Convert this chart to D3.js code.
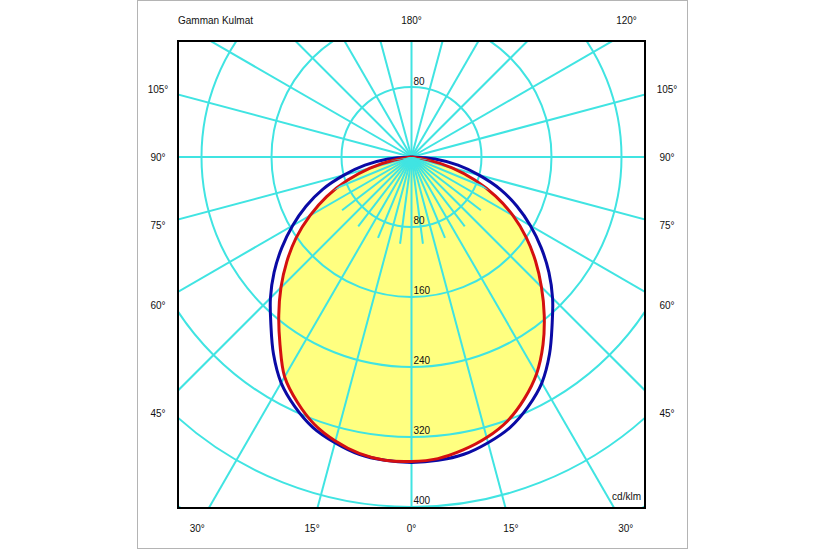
<!DOCTYPE html>
<html>
<head>
<meta charset="utf-8">
<script src="https://cdn.jsdelivr.net/npm/d3@7"></script>
<style>
  html, body { margin: 0; padding: 0; background: #fff; }
  text { font-family: "Liberation Sans", Arial, sans-serif; }
</style>
</head>
<body>
<svg id="chart" width="825" height="550"></svg>
<script>
// ---- data ----
const gammaAngles = d3.range(-90, 91, 5);               // gamma angle, degrees from nadir
const blueIntensity = [0, 27, 54, 80, 108, 133, 157, 181, 205, 228, 250, 275, 298, 315, 329, 338, 345, 348,
                       349,
                       348, 345, 338, 329, 315, 298, 275, 250, 228, 205, 181, 157, 133, 108, 80, 54, 27, 0];
const redIntensity  = [0, 0, 20, 49, 78, 107, 134, 161, 186, 211, 236, 262, 290, 309, 325, 336, 344, 348,
                       348,
                       346, 340, 332, 321, 305, 286, 262, 236, 210, 185, 160, 134, 106, 77, 48, 19, 0, 0];
const ringValues = [80, 160, 240, 320, 400, 480, 560];
const ringLabels = ["80", "160", "240", "320", "400"];
const sideLabelAngles = [45, 60, 75, 90, 105];
const bottomLabelAngles = [-30, -15, 0, 15, 30];
const topLabels = ["Gamman Kulmat", "180°", "120°"];
const unitLabel = "cd/klm";

// ---- layout ----
const svg = d3.select("#chart");
const box = { x: 178, y: 41, w: 467, h: 467 };
const cx = box.x + box.w / 2, cy = 157;
const r = d3.scaleLinear().domain([0, 400]).range([0, 350]);
const rad = d => d * Math.PI / 180;
const gridColor = "#40e4e2";

// radial line generator: gamma measured from downward vertical
const radial = (vals) => d3.lineRadial()
  .angle((d, i) => Math.PI - rad(gammaAngles[i]))
  .radius(d => r(d))
  .curve(d3.curveCatmullRom.alpha(0.5))(vals);

// outer frame
svg.append("rect").attr("x", 137.5).attr("y", 0.5).attr("width", 550).attr("height", 548)
  .attr("fill", "#fff").attr("stroke", "#b4b4b4").attr("stroke-width", 1);

const defs = svg.append("defs");
defs.append("clipPath").attr("id", "clip")
  .append("rect").attr("x", box.x).attr("y", box.y).attr("width", box.w).attr("height", box.h);
defs.append("clipPath").attr("id", "clipFill")
  .append("path").attr("transform", `translate(${cx},${cy})`).attr("d", radial(redIntensity) + "Z");

const outer = svg.append("g").attr("clip-path", "url(#clip)");
const plot = outer.append("g").attr("transform", `translate(${cx},${cy})`);

// yellow fill (red curve area)
plot.append("path").attr("d", radial(redIntensity) + "Z")
  .attr("fill", "#ffff80").attr("stroke", "none");

// grid rings
plot.selectAll("circle.ring").data(ringValues).join("circle")
  .attr("class", "ring").attr("r", d => r(d))
  .attr("fill", "none").attr("stroke", gridColor).attr("stroke-width", 2);

// radial lines every 15 degrees
const spokes = d3.range(0, 360, 15);
plot.selectAll("line.spoke").data(spokes).join("line")
  .attr("class", "spoke")
  .attr("x1", 0).attr("y1", 0)
  .attr("x2", d => r(700) * Math.sin(rad(d)))
  .attr("y2", d => r(700) * Math.cos(rad(d)))
  .attr("stroke", gridColor).attr("stroke-width", 2);

// finer spokes in lower half near the origin, inside the filled area only
const fine = d3.range(-82.5, 83, 15);
outer.append("g").attr("clip-path", "url(#clipFill)")
  .append("g").attr("transform", `translate(${cx},${cy})`)
  .selectAll("line.fine").data(fine).join("line")
  .attr("class", "fine")
  .attr("x1", 0).attr("y1", 0)
  .attr("x2", d => r(100) * Math.sin(rad(d)))
  .attr("y2", d => r(100) * Math.cos(rad(d)))
  .attr("stroke", gridColor).attr("stroke-width", 2);

// curves
plot.append("path").attr("d", radial(blueIntensity))
  .attr("fill", "none").attr("stroke", "#0a0aa5").attr("stroke-width", 3);
plot.append("path").attr("d", radial(redIntensity))
  .attr("fill", "none").attr("stroke", "#d41010").attr("stroke-width", 3);

// box
svg.append("rect").attr("x", box.x).attr("y", box.y).attr("width", box.w).attr("height", box.h)
  .attr("fill", "none").attr("stroke", "#000").attr("stroke-width", 2);

// ring labels
const lab = svg.append("g").attr("font-size", 10).attr("fill", "#111");
lab.append("text").attr("x", cx + 2).attr("y", cy - r(80) - 2).text(ringLabels[0]);
lab.selectAll("text.rl").data(ringLabels).join("text").attr("class", "rl")
  .attr("x", cx + 2).attr("y", (d, i) => cy + r(ringValues[i]) - 3).text(d => d);

lab.append("text").attr("x", box.x + box.w - 4).attr("y", box.y + box.h - 8)
  .attr("text-anchor", "end").text(unitLabel);

// angle labels
const sideDx = 255.5, bottomY = 532, topY = 24;
sideLabelAngles.forEach(a => {
  const y = cy + sideDx / Math.tan(rad(a)) + 4;
  [-1, 1].forEach(s => {
    lab.append("text").attr("x", cx + s * sideDx + (s < 0 ? 2 : 0)).attr("y", y)
      .attr("text-anchor", "middle").text(a + "°");
  });
});
bottomLabelAngles.forEach(a => {
  lab.append("text").attr("x", cx + (bottomY - 4 - cy) * Math.tan(rad(a))).attr("y", bottomY)
    .attr("text-anchor", "middle").text(Math.abs(a) + "°");
});
lab.append("text").attr("x", box.x).attr("y", topY).text(topLabels[0]);
lab.append("text").attr("x", cx).attr("y", topY).attr("text-anchor", "middle").text(topLabels[1]);
lab.append("text").attr("x", cx + 215).attr("y", topY).attr("text-anchor", "middle").text(topLabels[2]);
</script>
</body>
</html>
